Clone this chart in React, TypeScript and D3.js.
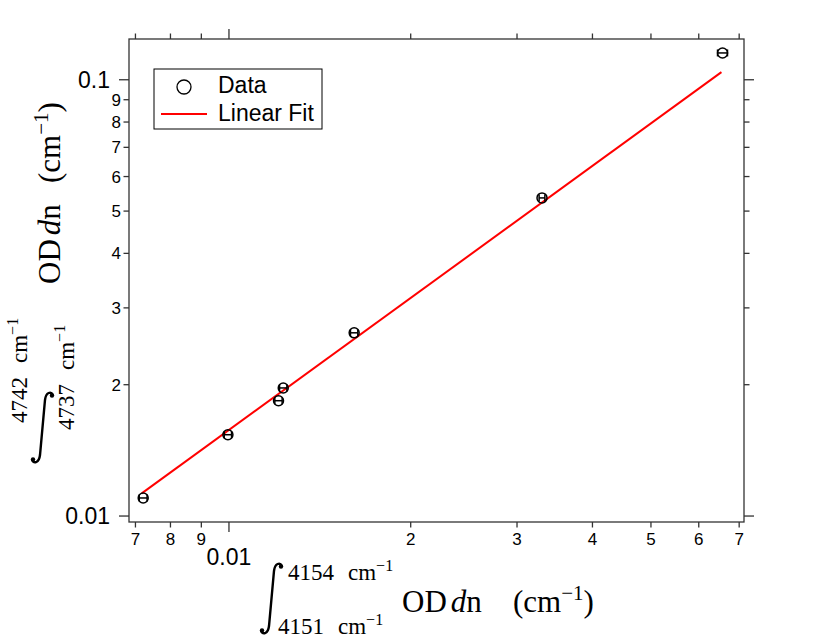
import * as d3 from "d3";
import React from "react";

// tick values and their labels (log axes)
const xTicks = [0.007, 0.008, 0.009, 0.01, 0.02, 0.03, 0.04, 0.05, 0.06, 0.07];
const xTickLabels = ["7", "8", "9", "0.01", "2", "3", "4", "5", "6", "7"];
const yTicks = [0.01, 0.02, 0.03, 0.04, 0.05, 0.06, 0.07, 0.08, 0.09, 0.1];
const yTickLabels = ["0.01", "2", "3", "4", "5", "6", "7", "8", "9", "0.1"];
const majorTicks = [0.01, 0.1];

// measured points, x error as a fraction of x
const dataX = [0.00721, 0.00996, 0.01208, 0.0123, 0.01612, 0.0330, 0.0657];
const dataY = [0.0110, 0.01536, 0.01838, 0.01966, 0.0263, 0.0536, 0.1152];
const dataXErr = [0.015, 0.014, 0.014, 0.014, 0.014, 0.011, 0.019];

// linear fit, end points
const fitX = [0.00717, 0.06542];
const fitY = [0.01127, 0.1041];

const W = 830;
const H = 642;
const left = 129, right = 744, top = 39, bottom = 522;

const sans = "'Liberation Sans', Arial, sans-serif";
const serif = "'Liberation Serif', 'Times New Roman', serif";

const Integral: React.FC<{ transform: string }> = ({ transform }) => (
    <g transform={transform} fill="none" stroke="#000">
        <path d="M22,4 C20,0 15,1 14,9 L9,64 C8,72 3,73 1,69" strokeWidth={2.4} />
        <circle cx={21} cy={4.5} r={2.2} fill="#000" stroke="none" />
        <circle cx={2} cy={68.5} r={2.2} fill="#000" stroke="none" />
    </g>
);

const Limit: React.FC<{ x: number; y: number; num: string }> = ({ x, y, num }) => (
    <text x={x} y={y} fontFamily={serif} fontSize={23}>
        {num}
        <tspan dx={14}>cm</tspan>
        <tspan dy={-9} fontSize={16}>−1</tspan>
    </text>
);

const Body: React.FC<{ odX: number; unitX: number }> = ({ odX, unitX }) => (
    <g>
        <text x={odX} y={0} fontFamily={serif} fontSize={31}>
            OD<tspan dx={4} fontStyle="italic">d</tspan>n
        </text>
        <text x={unitX} y={0} fontFamily={serif} fontSize={31}>
            (cm<tspan dy={-12} fontSize={21}>−1</tspan><tspan dy={12}>)</tspan>
        </text>
    </g>
);

const App: React.FC = () => {
    const x = d3.scaleLog().domain([0.00683, 0.0713]).range([left, right]);
    const y = d3.scaleLog().domain([0.00969, 0.124]).range([bottom, top]);
    const axis = "#333";
    const isMajor = (v: number) => majorTicks.some(m => Math.abs(m - v) < 1e-9);

    return (
        <svg width={W} height={H} style={{ position: "absolute", left: 0, top: 0, background: "white" }}>
            <rect x={left} y={top} width={right - left} height={bottom - top} fill="none" stroke={axis} strokeWidth={1.3} />

            {xTicks.map((v, i) => {
                const px = x(v);
                const len = isMajor(v) ? 10 : 5.5;
                return (
                    <g key={"xt" + i}>
                        <line x1={px} x2={px} y1={bottom} y2={bottom + len} stroke={axis} strokeWidth={1.3} />
                        <line x1={px} x2={px} y1={top} y2={top - len} stroke={axis} strokeWidth={1.3} />
                        {isMajor(v)
                            ? <text x={px} y={565} textAnchor="middle" fontFamily={sans} fontSize={23}>{xTickLabels[i]}</text>
                            : <text x={px} y={545} textAnchor="middle" fontFamily={sans} fontSize={17}>{xTickLabels[i]}</text>}
                    </g>
                );
            })}

            {yTicks.map((v, i) => {
                const py = y(v);
                const len = isMajor(v) ? 10 : 5.5;
                return (
                    <g key={"yt" + i}>
                        <line x1={left} x2={left - len} y1={py} y2={py} stroke={axis} strokeWidth={1.3} />
                        <line x1={right} x2={right + len} y1={py} y2={py} stroke={axis} strokeWidth={1.3} />
                        {isMajor(v)
                            ? <text x={110} y={py} dy="0.36em" textAnchor="end" fontFamily={sans} fontSize={23}>{yTickLabels[i]}</text>
                            : <text x={121} y={py} dy="0.36em" textAnchor="end" fontFamily={sans} fontSize={17}>{yTickLabels[i]}</text>}
                    </g>
                );
            })}

            <line x1={x(fitX[0])} y1={y(fitY[0])} x2={x(fitX[1])} y2={y(fitY[1])} stroke="#ff0000" strokeWidth={2} />

            {dataX.map((v, i) => {
                const cx = x(v), cy = y(dataY[i]);
                const x0 = x(v * (1 - dataXErr[i])), x1 = x(v * (1 + dataXErr[i]));
                return (
                    <g key={"pt" + i} stroke="#000" fill="none" strokeWidth={1.5}>
                        <line x1={x0} x2={x1} y1={cy} y2={cy} />
                        <line x1={x0} x2={x0} y1={cy - 3.5} y2={cy + 3.5} />
                        <line x1={x1} x2={x1} y1={cy - 3.5} y2={cy + 3.5} />
                        <circle cx={cx} cy={cy} r={5} />
                    </g>
                );
            })}

            <g>
                <rect x={154} y={69} width={168} height={60} fill="white" stroke="#000" strokeWidth={1} />
                <circle cx={184} cy={87} r={7} fill="none" stroke="#000" strokeWidth={1.3} />
                <text x={218} y={93} fontFamily={sans} fontSize={23}>Data</text>
                <line x1={161} x2={207} y1={114} y2={114} stroke="#ff0000" strokeWidth={2} />
                <text x={218} y={121} fontFamily={sans} fontSize={23}>Linear Fit</text>
            </g>

            {/* x label */}
            <g transform="translate(260, 612)">
                <Integral transform="translate(0, -50)" />
                <Limit x={28} y={-32} num="4154" />
                <Limit x={18} y={22} num="4151" />
                <Body odX={142} unitX={253} />
            </g>

            {/* y label */}
            <Integral transform="translate(31, 391)" />
            <g transform="translate(60, 470) rotate(-90)">
                <Limit x={47} y={-33} num="4742" />
                <Limit x={40} y={14} num="4737" />
                <Body odX={186} unitX={287} />
            </g>
        </svg>
    );
};

export default App;
